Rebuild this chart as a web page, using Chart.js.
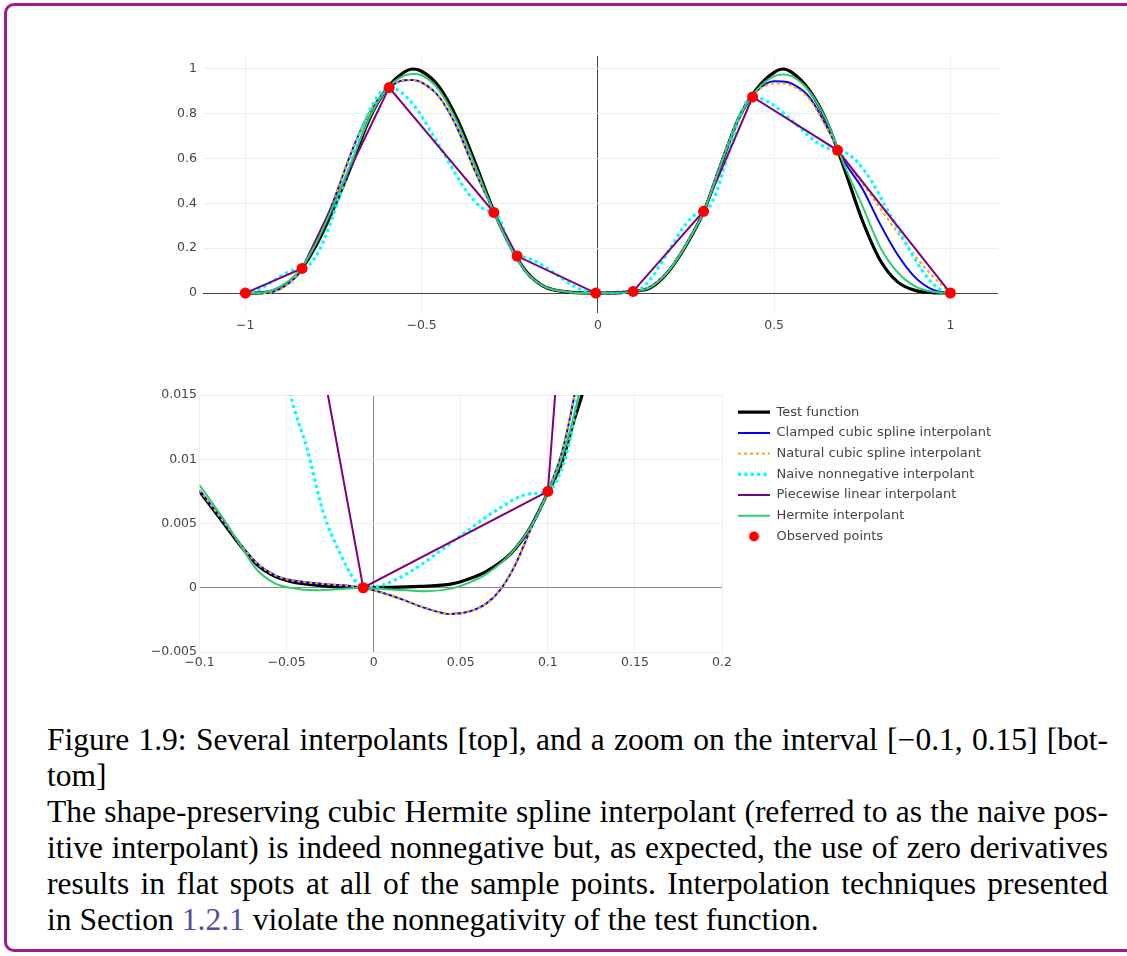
<!DOCTYPE html>
<html>
<head>
<meta charset="utf-8">
<script src="https://cdn.jsdelivr.net/npm/chart.js@4.4.1/dist/chart.umd.min.js"></script>
<style>
  html, body { margin: 0; padding: 0; background: #fff; width: 1127px; height: 956px; overflow: hidden; }
  #frame { position: absolute; left: 4px; top: 3px; width: 1150px; height: 943px; border: 3px solid #9e1a8e; border-radius: 10px; }
  #topChart { position: absolute; left: 140px; top: 40px; }
  #zoomChart { position: absolute; left: 140px; top: 380px; }
  #caption { position: absolute; left: 47px; top: 722px; width: 1061px; font-family: "Liberation Serif", "DejaVu Serif", serif; font-size: 31.5px; line-height: 36px; color: #000; }
  #caption .j { text-align: justify; text-align-last: justify; }
  #caption .ref { color: #50509a; }
</style>
</head>
<body>
<div id="frame"></div>
<canvas id="topChart" width="880" height="310"></canvas>
<canvas id="zoomChart" width="880" height="300"></canvas>
<div id="caption">
  <div class="j">Figure 1.9: Several interpolants [top], and a zoom on the interval [−0.1, 0.15] [bot-</div>
  <div>tom]</div>
  <div class="j">The shape-preserving cubic Hermite spline interpolant (referred to as the naive pos-</div>
  <div class="j">itive interpolant) is indeed nonnegative but, as expected, the use of zero derivatives</div>
  <div class="j">results in flat spots at all of the sample points. Interpolation techniques presented</div>
  <div>in Section <span class="ref">1.2.1</span> violate the nonnegativity of the test function.</div>
</div>
<script>
// series names (legend order)
const seriesNames = ['Test function', 'Clamped cubic spline interpolant', 'Natural cubic spline interpolant',
  'Naive nonnegative interpolant', 'Piecewise linear interpolant', 'Hermite interpolant', 'Observed points'];

// observed samples (also the piecewise linear interpolant)
const obsX = [-1, -0.839, -0.592, -0.295, -0.229, -0.006, 0.1, 0.3, 0.439, 0.68, 1];
const obsY = [0, 0.110, 0.917, 0.360, 0.165, 0, 0.0075, 0.365, 0.875, 0.637, 0];

// top panel: x positions where the smooth curves were read
const gridX = [-1, -0.95, -0.9, -0.85, -0.8, -0.75, -0.7, -0.65, -0.6, -0.55, -0.525, -0.5, -0.45, -0.4, -0.35,
  -0.3, -0.25, -0.2, -0.15, -0.1, -0.05, 0, 0.05, 0.1, 0.15, 0.2, 0.25, 0.3, 0.35, 0.4, 0.45, 0.5, 0.525,
  0.55, 0.6, 0.65, 0.7, 0.75, 0.8, 0.85, 0.9, 0.95, 1];
const testY = [0, 0.002, 0.025, 0.088, 0.21, 0.375, 0.565, 0.77, 0.91, 0.985, 1.0, 0.99, 0.92, 0.78, 0.59,
  0.385, 0.215, 0.09, 0.027, 0.0075, 0.0005, 0, 0.0005, 0.0075, 0.024, 0.095, 0.212, 0.362, 0.577, 0.782, 0.91, 0.985, 1.0,
  0.985, 0.905, 0.763, 0.551, 0.325, 0.149, 0.05, 0.012, 0.002, 0];
const clampedY = [0, 0, 0.02, 0.088, 0.225, 0.41, 0.625, 0.8, 0.905, 0.95, 0.951, 0.94, 0.875, 0.74, 0.55,
  0.38, 0.212, 0.088, 0.028, 0.0076, 0.0006, -0.0003, -0.0019, 0.0075, 0.03, 0.1, 0.218, 0.365, 0.585, 0.785, 0.9, 0.945, 0.944,
  0.935, 0.875, 0.74, 0.585, 0.467, 0.31, 0.172, 0.07, 0.015, 0];
const naturalY = [0, 0, 0.018, 0.088, 0.225, 0.41, 0.625, 0.8, 0.905, 0.95, 0.951, 0.94, 0.875, 0.74, 0.55,
  0.38, 0.212, 0.088, 0.028, 0.0076, 0.0006, -0.0003, -0.0019, 0.0075, 0.03, 0.1, 0.218, 0.365, 0.585, 0.785, 0.898, 0.935, 0.935,
  0.925, 0.865, 0.735, 0.6, 0.49, 0.38, 0.27, 0.165, 0.075, 0];
const hermiteY = [0, 0.003, 0.03, 0.093, 0.22, 0.392, 0.58, 0.775, 0.908, 0.97, 0.978, 0.972, 0.905, 0.765, 0.575,
  0.38, 0.21, 0.088, 0.028, 0.008, 0, -0.0002, 0, 0.0075, 0.027, 0.097, 0.215, 0.362, 0.578, 0.782, 0.905, 0.968, 0.975,
  0.968, 0.9, 0.765, 0.567, 0.39, 0.207, 0.093, 0.03, 0.006, 0];
const naiveX = [-1, -0.984, -0.96, -0.92, -0.879, -0.855,
  -0.839, -0.814, -0.777, -0.7155, -0.654, -0.617,
  -0.592, -0.562, -0.518, -0.4435, -0.369, -0.325,
  -0.295, -0.288, -0.2785, -0.262, -0.2455, -0.236,
  -0.229, -0.207, -0.173, -0.1175, -0.062, -0.028,
  -0.006, 0.005, 0.0205, 0.047, 0.0735, 0.089,
  0.1, 0.12, 0.15, 0.2, 0.25, 0.28,
  0.3, 0.314, 0.335, 0.3695, 0.404, 0.425,
  0.439, 0.463, 0.499, 0.5595, 0.62, 0.656,
  0.68, 0.712, 0.76, 0.84, 0.92, 0.968, 1];
const naiveY = [0, 0.003, 0.017, 0.055, 0.093, 0.107,
  0.11, 0.133, 0.236, 0.514, 0.791, 0.894,
  0.917, 0.901, 0.83, 0.64, 0.447, 0.376,
  0.36, 0.355, 0.33, 0.2625, 0.195, 0.17,
  0.165, 0.16, 0.139, 0.0825, 0.026, 0.0046,
  0, 0.0002, 0.0012, 0.00375, 0.0063, 0.0073,
  0.0075, 0.0175, 0.0633, 0.186, 0.309, 0.355,
  0.365, 0.379, 0.445, 0.62, 0.795, 0.861,
  0.875, 0.868, 0.838, 0.756, 0.674, 0.644,
  0.637, 0.619, 0.538, 0.3185, 0.1, 0.018, 0];

// bottom panel (zoom on the origin)
const zoomTestX = [-0.1, -0.086, -0.076, -0.067, -0.057, -0.048, -0.029, -0.01, 0.01, 0.027, 0.045, 0.055, 0.065, 0.079, 0.09, 0.1, 0.108, 0.115, 0.12, 0.125];
const zoomTestY = [0.0075, 0.005, 0.0032, 0.0018, 0.0009, 0.0005, 0.00015, 0.00002, 0.00003, 0.0001, 0.0003, 0.0007, 0.0013, 0.0027, 0.0047, 0.0074, 0.0097, 0.013, 0.0152, 0.0185];
const zoomClampedX = [-0.1, -0.086, -0.076, -0.067, -0.057, -0.048, -0.029, -0.006, 0.01, 0.02, 0.03, 0.044, 0.056, 0.065, 0.073, 0.081, 0.09, 0.1, 0.108, 0.115, 0.12];
const zoomClampedY = [0.0076, 0.0051, 0.0033, 0.0019, 0.001, 0.0006, 0.0003, 0, -0.0006, -0.0011, -0.0016, -0.00205, -0.0018, -0.0012, -0.0001, 0.0017, 0.0045, 0.0075, 0.0105, 0.0148, 0.019];
const zoomNaturalX = [-0.1, -0.086, -0.076, -0.067, -0.057, -0.048, -0.029, -0.006, 0.01, 0.02, 0.03, 0.044, 0.056, 0.065, 0.073, 0.081, 0.09, 0.1, 0.108, 0.115, 0.12];
const zoomNaturalY = [0.0076, 0.0051, 0.0033, 0.0019, 0.001, 0.0006, 0.0003, 0, -0.0006, -0.0011, -0.0016, -0.00205, -0.0018, -0.0012, -0.0001, 0.0017, 0.0045, 0.0075, 0.0105, 0.0148, 0.019];
const zoomNaiveX = [-0.062, -0.048, -0.038, -0.029, -0.019, -0.011, -0.006, 0.005, 0.0205, 0.047, 0.0735, 0.089, 0.1, 0.11, 0.116, 0.125];
const zoomNaiveY = [0.026, 0.0152, 0.0107, 0.0059, 0.0026, 0.0006, 0, 0.0002, 0.0012, 0.00375, 0.0063, 0.0073, 0.0075, 0.0101, 0.014, 0.025];
const zoomHermiteX = [-0.1, -0.086, -0.076, -0.067, -0.057, -0.048, -0.033, -0.019, -0.006, 0.005, 0.019, 0.03, 0.045, 0.055, 0.065, 0.079, 0.09, 0.1, 0.108, 0.117, 0.122];
const zoomHermiteY = [0.008, 0.0053, 0.0032, 0.0014, 0.00036, 0, -0.0002, -0.0001, 0, -0.0001, -0.0002, -0.00028, -0.00005, 0.0004, 0.0011, 0.0027, 0.0047, 0.0074, 0.0101, 0.0145, 0.018];

// tick labels
const topXTicks = [-1, -0.5, 0, 0.5, 1];
const topYTicks = [0, 0.2, 0.4, 0.6, 0.8, 1];
const zoomXTicks = [-0.1, -0.05, 0, 0.05, 0.1, 0.15, 0.2];
const zoomYTicks = [-0.005, 0, 0.005, 0.01, 0.015];

const pts = (xs, ys) => xs.map((x, i) => ({ x: x, y: ys[i] }));
const fmt = v => String(v).replace('-', '\u2212');
const tickFont = { family: 'DejaVu Sans', size: 12.5 };

function makeDatasets(curves) {
  const base = { pointRadius: 0, pointHoverRadius: 0, fill: false, cubicInterpolationMode: 'monotone' };
  return [
    Object.assign({}, base, { label: seriesNames[0], data: curves[0], borderColor: '#000000', borderWidth: 3.2, order: 7 }),
    Object.assign({}, base, { label: seriesNames[1], data: curves[1], borderColor: '#0000ff', borderWidth: 2, order: 6 }),
    Object.assign({}, base, { label: seriesNames[2], data: curves[2], borderColor: '#ffa500', borderWidth: 2, borderDash: [3, 3], order: 5 }),
    Object.assign({}, base, { label: seriesNames[3], data: curves[3], borderColor: '#00ffff', borderWidth: 3.2, borderDash: [3.2, 3.2], order: 4 }),
    Object.assign({}, base, { label: seriesNames[4], data: pts(obsX, obsY), borderColor: '#800080', borderWidth: 2, cubicInterpolationMode: 'default', tension: 0, order: 3 }),
    Object.assign({}, base, { label: seriesNames[5], data: curves[4], borderColor: '#2ecc71', borderWidth: 2, order: 2 }),
    { label: seriesNames[6], data: pts(obsX, obsY), showLine: false, pointRadius: 5.5, pointHoverRadius: 5.5,
      pointBackgroundColor: '#ff0000', pointBorderWidth: 0, backgroundColor: '#ff0000', borderColor: '#ff0000', order: 1 }
  ];
}

function axis(min, max, tickList, zeroColor, opts) {
  return {
    type: 'linear', min: min, max: max,
    afterBuildTicks: s => { s.ticks = tickList.map(v => ({ value: v })); },
    afterFit: s => { if (opts.width !== undefined) s.width = opts.width; if (opts.height !== undefined) s.height = opts.height; },
    grid: { color: c => (c.tick && c.tick.value === 0) ? zeroColor : '#eeeeee', lineWidth: 1, drawTicks: false },
    border: { display: false },
    ticks: { padding: opts.pad, color: '#444', font: tickFont, autoSkip: false, maxRotation: 0, callback: v => fmt(v) }
  };
}

// small red dot used as the legend symbol of the observed points
const dot = document.createElement('canvas');
dot.width = 11; dot.height = 11;
const dctx = dot.getContext('2d');
dctx.fillStyle = '#ff0000';
dctx.beginPath(); dctx.arc(5.5, 5.5, 5, 0, Math.PI * 2); dctx.fill();

// move the legend a little away from the plot and give its text room
const legendShift = {
  id: 'legendShift',
  afterLayout(chart) {
    const lg = chart.legend;
    if (lg && chart.options.plugins.legend.display) {
      lg.left += 8.3;
      lg.right = lg.left + 300;
      lg.width = 300;
      lg.top += 3; lg.bottom += 3;
    }
  }
};

new Chart(document.getElementById('topChart'), {
  type: 'line',
  data: { datasets: makeDatasets([pts(gridX, testY), pts(gridX, clampedY), pts(gridX, naturalY), pts(naiveX, naiveY), pts(gridX, hermiteY)]) },
  options: {
    responsive: false, animation: false, devicePixelRatio: 1, events: [],
    layout: { padding: { left: 0, top: 16, right: 22, bottom: 0 } },
    scales: {
      x: axis(-1.12, 1.135, topXTicks, '#444444', { height: 37, pad: 5 }),
      y: axis(-0.089, 1.058, topYTicks, '#444444', { width: 63, pad: 6 })
    },
    plugins: { legend: { display: false }, tooltip: { enabled: false } }
  }
});

new Chart(document.getElementById('zoomChart'), {
  type: 'line',
  data: { datasets: makeDatasets([pts(zoomTestX, zoomTestY), pts(zoomClampedX, zoomClampedY), pts(zoomNaturalX, zoomNaturalY), pts(zoomNaiveX, zoomNaiveY), pts(zoomHermiteX, zoomHermiteY)]) },
  options: {
    responsive: false, animation: false, devicePixelRatio: 1, events: [],
    layout: { padding: { left: 0, top: 15, right: 58, bottom: 0 } },
    scales: {
      x: axis(-0.1, 0.2, zoomXTicks, '#888888', { height: 28, pad: 3 }),
      y: axis(-0.005, 0.015, zoomYTicks, '#888888', { width: 59.5, pad: 2.5 })
    },
    plugins: {
      tooltip: { enabled: false },
      legend: {
        display: true, position: 'right', align: 'start', maxWidth: 240,
        labels: {
          usePointStyle: true, pointStyleWidth: 32, padding: 7.7, color: '#444',
          font: { family: 'DejaVu Sans', size: 13 },
          generateLabels: chart => chart.data.datasets.map((d, i) => ({
            text: d.label, fontColor: '#444', datasetIndex: i, hidden: false,
            strokeStyle: d.borderColor, fillStyle: 'rgba(0,0,0,0)',
            lineWidth: d.showLine === false ? 0 : d.borderWidth,
            lineDash: d.borderDash || [], lineCap: 'butt',
            pointStyle: d.showLine === false ? dot : 'line'
          }))
        }
      }
    }
  },
  plugins: [legendShift]
});
</script>
</body>
</html>
